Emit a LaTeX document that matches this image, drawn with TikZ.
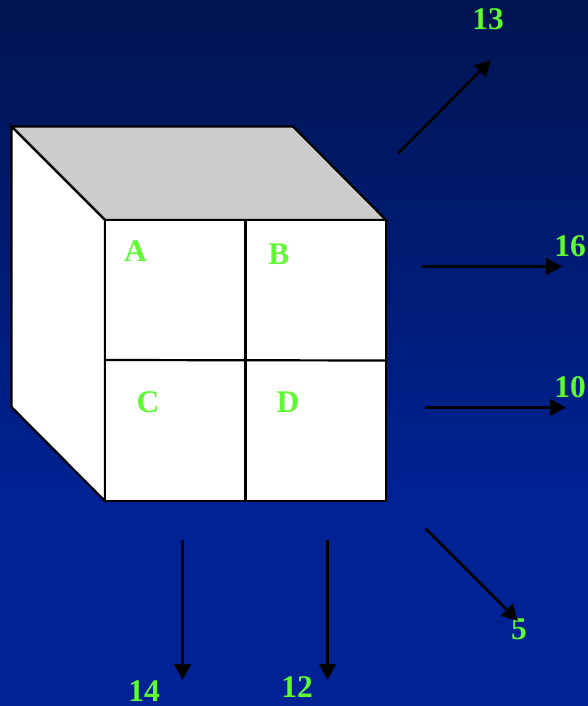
\documentclass[tikz,border=0pt]{standalone}
\usepackage{fontspec}
\setmainfont{Liberation Serif}
\usetikzlibrary{arrows.meta}
\definecolor{bgtop}{RGB}{0,20,80}
\definecolor{bgbot}{RGB}{0,34,148}
\definecolor{lbl}{RGB}{95,250,50}
\definecolor{topface}{RGB}{204,204,204}
\tikzset{
  edge/.style={draw=black,line width=2.2pt,line join=miter},
  inner/.style={draw=black,line width=2.2pt},
  flow/.style={draw=black,line width=2.5pt,-{Triangle[length=16pt,width=16.5pt]},shorten >=0pt},
  lab/.style={text=lbl,font=\fontsize{31.5}{31.5}\selectfont\bfseries,inner sep=0pt,anchor=center}
}
\begin{document}
\begin{tikzpicture}[x=1pt,y=-1pt]
\useasboundingbox (0,0) rectangle (588,706);
\fill[bgbot] (0,490) rectangle (588,706);
\shade[top color=bgtop,bottom color=bgbot,shading angle=0] (0,0) rectangle (588,500);
% cube
\path[edge,fill=topface] (11.5,126.5) -- (293,126.5) -- (386,220) -- (105,220) -- cycle;
\path[edge,fill=white] (11.5,126.5) -- (105,220) -- (105,501) -- (11.5,407) -- cycle;
\path[edge,fill=white] (105,220) rectangle (386,501);
\draw[inner] (245.5,220) -- (245.5,501);
\draw[inner] (105,360) -- (386,360.5);
% labels
\node[lab] (A) at (135.5,251) {A};
\node[lab] (B) at (279,254.5) {B};
\node[lab] (C) at (148,402.5) {C};
\node[lab] (D) at (288,402.5) {D};
\node[lab] (n13) at (488,19.5) {13};
\node[lab] (n16) at (570,246.5) {16};
\node[lab] (n10) at (570,387.5) {10};
\node[lab] (n5) at (519,629.5) {5};
\node[lab] (n14) at (144,691) {14};
\node[lab] (n12) at (297,687) {12};
% arrow ends
\coordinate (s13) at (398,153.5); \coordinate (e13) at (491,60);
\coordinate (s16) at (421.5,266.5); \coordinate (e16) at (562,266.5);
\coordinate (s10) at (425,407.5); \coordinate (e10) at (566,407.5);
\coordinate (s5) at (425.5,528.5); \coordinate (e5) at (518,621);
\coordinate (s14) at (182.5,540); \coordinate (e14) at (182.5,680);
\coordinate (s12) at (327.5,540); \coordinate (e12) at (327.5,680);
\draw[flow] (s13) -- (e13);
\draw[flow] (s16) -- (e16);
\draw[flow] (s10) -- (e10);
\draw[flow] (s5) -- (e5);
\draw[flow] (s14) -- (e14);
\draw[flow] (s12) -- (e12);
\end{tikzpicture}
\end{document}
